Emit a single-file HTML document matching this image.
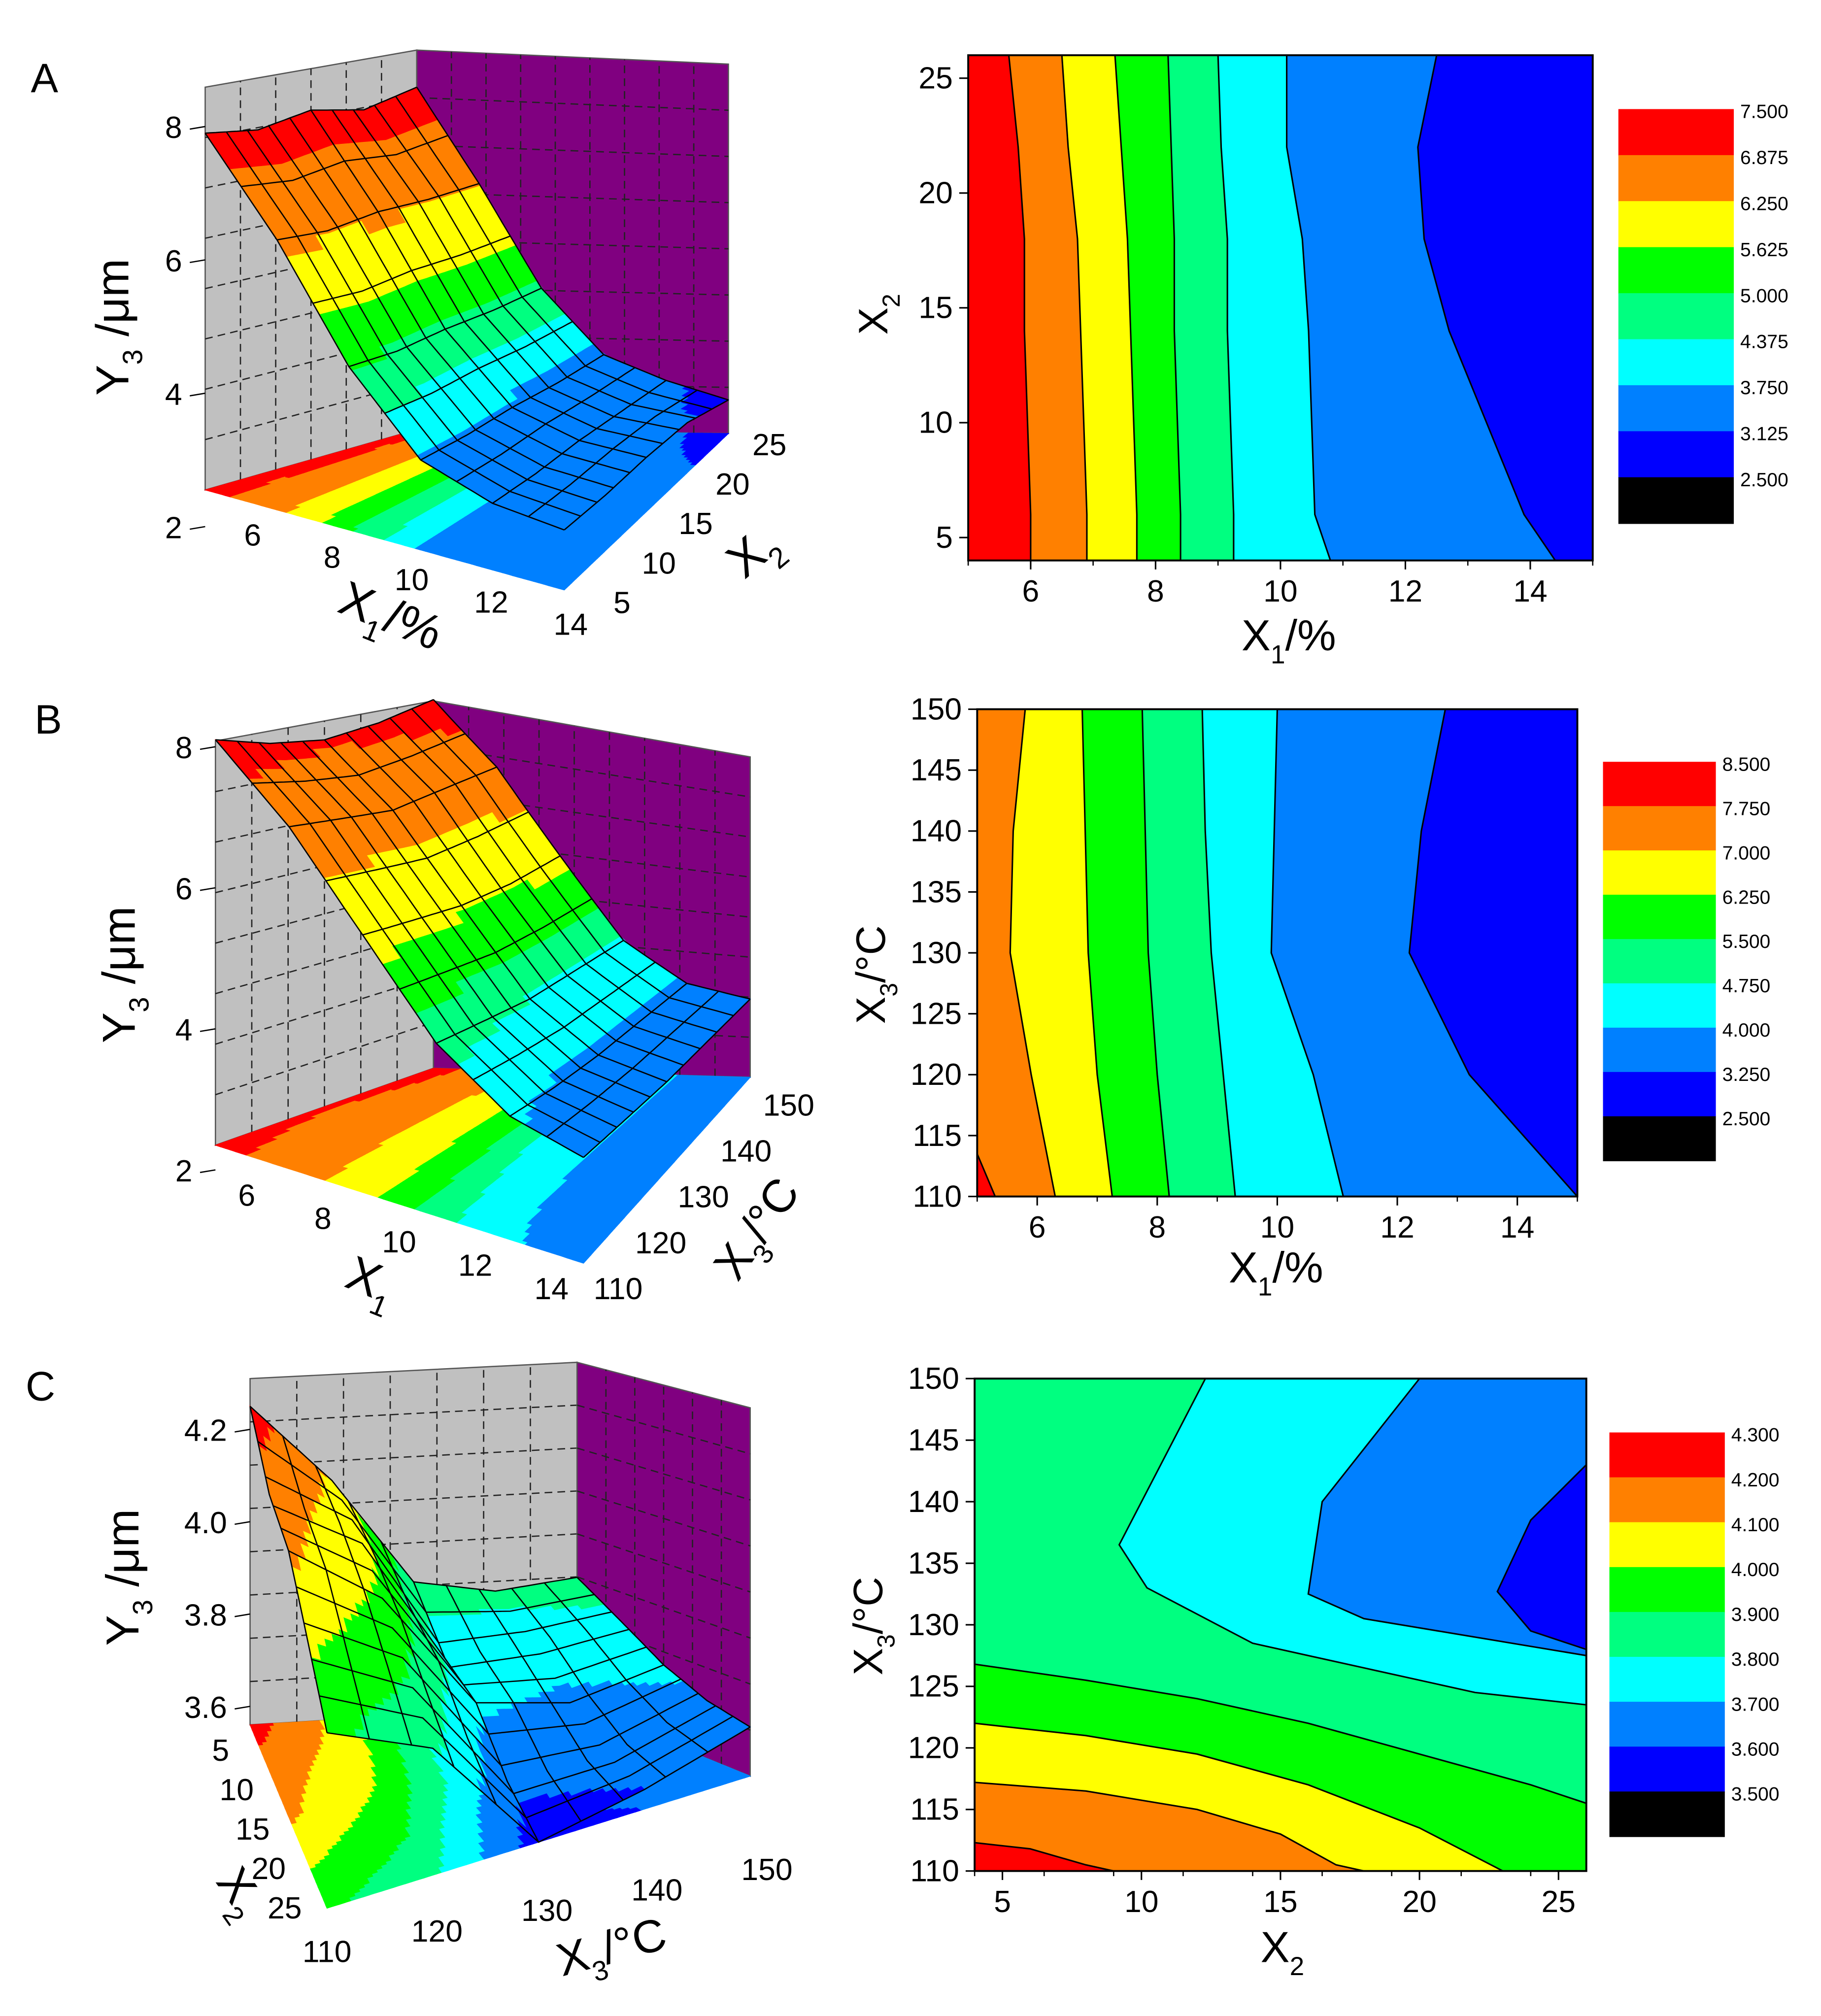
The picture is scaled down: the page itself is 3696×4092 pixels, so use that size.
<!DOCTYPE html>
<html><head><meta charset="utf-8"><title>Response surface and contour plots</title>
<style>html,body{margin:0;padding:0;background:#fff}svg{display:block}text{font-family:"Liberation Sans",Arial,sans-serif}</style>
</head><body>
<svg id="fig" width="3696" height="4092" viewBox="0 0 1420 1572" xmlns="http://www.w3.org/2000/svg">
<rect width="1420" height="1572" fill="#fff"/>
<text x="24" y="72" font-size="32">A</text>
<text x="27" y="572" font-size="32">B</text>
<text x="20" y="1092" font-size="32">C</text>
</svg>
<script>
const NS='http://www.w3.org/2000/svg';
const svg=document.getElementById('fig');
const palette=['#000000','#0000ff','#0080ff','#00ffff','#00ff80','#00ff00','#ffff00','#ff8000','#ff0000'];

/* ---------- contour plot data ---------- */
const aYPts=[26,22,18,14,10,6,4];
const aBound1=[5.65,5.8,5.9,5.9,5.95,6.0,6.0];
const aBound2=[6.5,6.6,6.75,6.8,6.85,6.9,6.9];
const aBound3=[7.35,7.45,7.55,7.6,7.65,7.7,7.7];
const aBound4=[8.2,8.25,8.3,8.3,8.35,8.4,8.4];
const aBound5=[9.0,9.05,9.15,9.15,9.2,9.25,9.25];
const aBound6=[10.1,10.1,10.35,10.45,10.5,10.55,10.8];
const aBound7=[12.5,12.2,12.3,12.7,13.3,13.9,14.4];
const aXTicks=[6,8,10,12,14];
const aYTicks=[5,10,15,20,25];
const aLevels=['7.500','6.875','6.250','5.625','5.000','4.375','3.750','3.125','2.500'];

const bYPts=[150,140,130,120,110];
const bBound1=[5.8,5.6,5.55,5.9,6.3];
const bBound2=[6.75,6.8,6.85,7.0,7.25];
const bBound3=[7.75,7.8,7.85,8.0,8.2];
const bBound4=[8.75,8.8,8.9,9.1,9.3];
const bBound5=[10.0,9.95,9.9,10.6,11.1];
const bBound6=[12.8,12.4,12.2,13.2,15.0];
const bXTicks=[6,8,10,12,14];
const bYTicks=[110,115,120,125,130,135,140,145,150];
const bLevels=['8.500','7.750','7.000','6.250','5.500','4.750','4.000','3.250','2.500'];

const cRedX=[4,6,8,9], cRedY=[112.3,111.8,110.5,110];
const cOrangeX=[4,8,12,15,17,18], cOrangeY=[117.2,116.5,115,113,110.5,110];
const cYellowX=[4,8,12,16,20,23], cYellowY=[122,121,119.5,117,113.5,110];
const cGreenX=[4,8,12,16,20,24,26], cGreenY=[126.8,125.5,124,122,119.5,117,115.5];
const cCyanX=[12.3,9.2,10.2,14,18,22,26], cCyanY=[150,136.5,133,128.5,126.5,124.5,123.5];
const cAzureX=[20,16.5,16,18,22,26], cAzureY=[150,140,132.5,130.5,129,127.5];
const cBlueX=[26,24,22.8,24,26], cBlueY=[143,138.5,132.7,129.5,128];
const cXTicks=[5,10,15,20,25];
const cYTicks=[110,115,120,125,130,135,140,145,150];
const cLevels=['4.300','4.200','4.100','4.000','3.900','3.800','3.700','3.600','3.500'];

/* ---------- 3D surface data ---------- */
const sAU=[4,6,8,10,12,14], sAV=[5,10,15,20,25];
const sAZ=[[7.9,6.6,5.0,3.9,3.55,3.45],[7.8,6.5,4.9,3.85,3.5,3.4],[7.95,6.55,4.9,3.85,3.5,3.4],[7.8,6.5,4.85,3.8,3.45,3.35],[8.0,6.5,4.85,3.8,3.4,3.1]];
const sALev=[3.0,3.3,3.95,4.45,4.95,5.6,6.4,7.4];
const sBU=[4,6,8,10,12,14], sBV=[110,120,130,140,150];
const sBZ=[[8.1,7.2,6.0,4.8,4.1,3.85],[7.9,7.1,5.9,4.7,4.0,3.8],[7.8,7.0,5.8,4.6,3.95,3.75],[7.9,7.1,5.8,4.6,3.95,3.75],[8.1,7.2,5.9,4.6,3.95,3.75]];
const sBLev=[3.0,3.5,4.05,4.6,5.1,5.7,6.6,7.7];
const sCU=[110,120,130,140,150], sCV=[5,10,15,20,25];
const sCZ=[[4.25,4.08,3.85,3.82,3.84],[4.15,4.05,3.75,3.76,3.78],[4.12,3.98,3.72,3.68,3.72],[4.02,3.9,3.62,3.62,3.68],[3.92,3.82,3.56,3.6,3.66]];
const sCLev=[3.5,3.6,3.7,3.8,3.9,4.0,4.1,4.2];
const aZTicks=[2,4,6,8], aZLabels=['2','4','6','8'], aUTicks=[6,8,10,12,14], aVTicks=[5,10,15,20,25];
const bZTicks=[2,4,6,8], bZLabels=['2','4','6','8'], bUTicks=[6,8,10,12,14], bVTicks=[110,120,130,140,150];
const cZTicks=[3.6,3.8,4.0,4.2], cZLabels=['3.6','3.8','4.0','4.2'], cUTicks=[110,120,130,140,150], cVTicks=[5,10,15,20,25];

function el(tag,attrs,parent){const e=document.createElementNS(NS,tag);for(const k in attrs)e.setAttribute(k,attrs[k]);(parent||svg).appendChild(e);return e;}
function txt(x,y,s,size,parent,anchor,rot){const t=el('text',{x:x,y:y,'font-size':size,'text-anchor':anchor||'middle'},parent);if(rot)t.setAttribute('transform','rotate('+rot+' '+x+' '+y+')');t.textContent=s;return t;}

/* ---------- contour plot ---------- */
function contourPlot(cfg){
  const g=el('g',{});
  
  
  const sx=v=>cfg.x0+(v-cfg.xmin)/(cfg.xmax-cfg.xmin)*(cfg.x1-cfg.x0);
  const sy=v=>cfg.y1-(v-cfg.ymin)/(cfg.ymax-cfg.ymin)*(cfg.y1-cfg.y0);
  const base=el('rect',{x:cfg.x0,y:cfg.y0,width:cfg.x1-cfg.x0,height:cfg.y1-cfg.y0,fill:cfg.base},g);
  
  
  cfg.regions.forEach(r=>{
    const pts=r.xs.map((x,i)=>[sx(x),sy(r.ys[i])]);
    let poly=pts.slice();
    r.close.forEach(c=>poly.push([sx(c[0]),sy(c[1])]));
    const p=el('polygon',{points:poly.map(p=>p.join(',')).join(' '),fill:r.fill},g);
    
    
    const l=el('polyline',{points:pts.map(p=>p.join(',')).join(' '),fill:'none',stroke:'#000','stroke-width':1.2},g);
    
    
  });
  el('rect',{x:cfg.x0,y:cfg.y0,width:cfg.x1-cfg.x0,height:cfg.y1-cfg.y0,fill:'none',stroke:'#000','stroke-width':1.5},g);
  cfg.xticks.forEach(t=>{const x=sx(t);el('line',{x1:x,y1:cfg.y1,x2:x,y2:cfg.y1+7,stroke:'#000','stroke-width':1.2},g);
    const tl=txt(x,cfg.y1+32,String(t),24,g);});
  for(let t=cfg.xmin;t<=cfg.xmax;t+=cfg.xminor){const x=sx(t);el('line',{x1:x,y1:cfg.y1,x2:x,y2:cfg.y1+4,stroke:'#000','stroke-width':1},g);}
  cfg.yticks.forEach(t=>{const y=sy(t);el('line',{x1:cfg.x0-7,y1:y,x2:cfg.x0,y2:y,stroke:'#000','stroke-width':1.2},g);
    const tl=txt(cfg.x0-12,y+8,String(t),24,g,'end');});
  const cb=el('g',{},g);
  
  
  const h=(cfg.cb[3]-cfg.cb[1])/9;
  cfg.levels.forEach((lab,i)=>{
    const r=el('rect',{x:cfg.cb[0],y:cfg.cb[1]+i*h,width:cfg.cb[2]-cfg.cb[0],height:h+0.5,fill:palette[8-i]},cb);
    
    
    const t=txt(cfg.cb[2]+5,cfg.cb[1]+i*h+7,lab,15,cb,'start');
    
    
  });
  return {g,sx,sy};
}
function vRegions(ys,bounds,fills,xmax){
  return bounds.map((b,i)=>({xs:b,ys:ys,fill:fills[i],close:[[xmax,ys[ys.length-1]],[xmax,ys[0]]]}));
}
contourPlot({name:'contour-plot-a',x0:755,x1:1242,y0:43,y1:437,xmin:5,xmax:15,ymin:4,ymax:26,base:palette[8],
  regions:vRegions(aYPts,[aBound1,aBound2,aBound3,aBound4,aBound5,aBound6,aBound7],[palette[7],palette[6],palette[5],palette[4],palette[3],palette[2],palette[1]],15),
  xticks:aXTicks,yticks:aYTicks,xminor:1,levels:aLevels,cb:[1262,85,1352,408]});
contourPlot({name:'contour-plot-b',x0:762,x1:1230,y0:553,y1:933,xmin:5,xmax:15,ymin:110,ymax:150,base:palette[7],
  regions:[{xs:[5,5,5.3],ys:[110,113.5,110],fill:palette[8],close:[]}].concat(vRegions(bYPts,[bBound1,bBound2,bBound3,bBound4,bBound5,bBound6],[palette[6],palette[5],palette[4],palette[3],palette[2],palette[1]],15)),
  xticks:bXTicks,yticks:bYTicks,xminor:1,levels:bLevels,cb:[1250,594,1338,905]});
contourPlot({name:'contour-plot-c',x0:760,x1:1237,y0:1075,y1:1459,xmin:4,xmax:26,ymin:110,ymax:150,base:palette[4],
  regions:[
    {xs:cGreenX,ys:cGreenY,fill:palette[5],close:[[26,110],[4,110]]},
    {xs:cYellowX,ys:cYellowY,fill:palette[6],close:[[4,110]]},
    {xs:cOrangeX,ys:cOrangeY,fill:palette[7],close:[[4,110]]},
    {xs:cRedX,ys:cRedY,fill:palette[8],close:[[4,110]]},
    {xs:cCyanX,ys:cCyanY,fill:palette[3],close:[[26,150]]},
    {xs:cAzureX,ys:cAzureY,fill:palette[2],close:[[26,150]]},
    {xs:cBlueX,ys:cBlueY,fill:palette[1],close:[]}],
  xticks:cXTicks,yticks:cYTicks,xminor:2.5,levels:cLevels,cb:[1255,1117,1345,1432]});

function title(x,y,main,sub,rest,size,rot,name){
  const t=el('text',{x:x,y:y,'font-size':size,'text-anchor':'middle'});
  
  
  if(rot)t.setAttribute('transform','rotate('+rot+' '+x+' '+y+')');
  const a=el('tspan',{},t);a.textContent=main;
  const b=el('tspan',{'font-size':size*0.6,dy:size*0.3},t);b.textContent=sub;
  const c=el('tspan',{dy:-size*0.3},t);c.textContent=rest;
}
title(1005,507,'X','1','/%',34,0,'x-axis-title-a');
title(692,245,'X','2','',32,-90,'y-axis-title-a');
title(995,1000,'X','1','/%',34,0,'x-axis-title-b');
title(690,760,'X','3','/°C',32,-90,'y-axis-title-b');
title(1000,1530,'X','2','',34,0,'x-axis-title-c');
title(688,1268,'X','3','/°C',32,-90,'y-axis-title-c');

/* ---------- 3D surface ---------- */
function interp(U,V,Z,u,v){
  let i=0;while(i<U.length-2&&u>U[i+1])i++;
  let j=0;while(j<V.length-2&&v>V[j+1])j++;
  const s=(u-U[i])/(U[i+1]-U[i]),t=(v-V[j])/(V[j+1]-V[j]);
  return Z[j][i]*(1-s)*(1-t)+Z[j][i+1]*s*(1-t)+Z[j+1][i]*(1-s)*t+Z[j+1][i+1]*s*t;
}
function colorFor(v,lev){let i=0;while(i<lev.length&&v>=lev[i])i++;return palette[i];}
function surface3d(cfg){
  const g=el('g',{});
  
  
  const U=cfg.U,V=cfg.V,Z=cfg.Z;
  const u0=U[0],u1=U[U.length-1],v0=V[0],v1=V[V.length-1];
  const c=cfg.corners,k=cfg.zsc;
  const P=(u,v,z)=>{const s=(u-u0)/(u1-u0),t=(v-v0)/(v1-v0);
    const w=[(1-s)*(1-t),s*(1-t),s*t,(1-s)*t];
    let x=0,y=0,zs=0;for(let q=0;q<4;q++){x+=c[q][0]*w[q];y+=c[q][1]*w[q];zs+=k[q]*w[q];}
    return [x,y-(z-cfg.zf)*zs];};
  const pstr=a=>a.map(p=>p[0].toFixed(1)+','+p[1].toFixed(1)).join(' ');
  cfg.walls.forEach(w=>{
    const A=w.a,B=w.b;
    const poly=[P(A[0],A[1],cfg.zf),P(B[0],B[1],cfg.zf),P(B[0],B[1],cfg.zt),P(A[0],A[1],cfg.zt)];
    const p=el('polygon',{points:pstr(poly),fill:w.fill,stroke:'#555','stroke-width':1},g);
    
    
    for(let m=1;m<w.n;m++){const f=m/w.n;const uu=A[0]+(B[0]-A[0])*f,vv=A[1]+(B[1]-A[1])*f;
      const q1=P(uu,vv,cfg.zf),q2=P(uu,vv,cfg.zt);
      el('line',{x1:q1[0],y1:q1[1],x2:q2[0],y2:q2[1],stroke:w.line,'stroke-width':1,'stroke-dasharray':'6,4'},g);}
    for(let m=1;m<8;m++){const z=cfg.zf+(cfg.zt-cfg.zf)*m/8;const q1=P(A[0],A[1],z),q2=P(B[0],B[1],z);
      el('line',{x1:q1[0],y1:q1[1],x2:q2[0],y2:q2[1],stroke:w.line,'stroke-width':1,'stroke-dasharray':'6,4'},g);}
  });
  const NF=70;
  const fg=el('g',{},g);
  
  
  for(let i=0;i<NF;i++)for(let j=0;j<NF;j++){
    const ua=u0+(u1-u0)*i/NF,ub=u0+(u1-u0)*(i+1)/NF,va=v0+(v1-v0)*j/NF,vb=v0+(v1-v0)*(j+1)/NF;
    const col=colorFor(interp(U,V,Z,(ua+ub)/2,(va+vb)/2),cfg.lev);
    el('polygon',{points:pstr([P(ua,va,cfg.zf),P(ub,va,cfg.zf),P(ub,vb,cfg.zf),P(ua,vb,cfg.zf)]),fill:col,stroke:col,'stroke-width':0.6},fg);
  }
  const N=44;
  const cells=[];
  for(let i=0;i<N;i++)for(let j=0;j<N;j++){
    const ua=u0+(u1-u0)*i/N,ub=u0+(u1-u0)*(i+1)/N,va=v0+(v1-v0)*j/N,vb=v0+(v1-v0)*(j+1)/N;
    const col=colorFor(interp(U,V,Z,(ua+ub)/2,(va+vb)/2),cfg.lev);
    const sp=[P(ua,va,interp(U,V,Z,ua,va)),P(ub,va,interp(U,V,Z,ub,va)),P(ub,vb,interp(U,V,Z,ub,vb)),P(ua,vb,interp(U,V,Z,ua,vb))];
    cells.push({d:P((ua+ub)/2,(va+vb)/2,cfg.zf)[1],sp,col});
  }
  cells.sort((a,b)=>a.d-b.d);
  const sg=el('g',{},g);
  
  
  cells.forEach(cl=>el('polygon',{points:pstr(cl.sp),fill:cl.col,stroke:cl.col,'stroke-width':0.6},sg));
  const M=10;
  for(let m=0;m<=M;m++){
    const uu=u0+(u1-u0)*m/M,vv=v0+(v1-v0)*m/M;const a=[],b=[];
    for(let q=0;q<=40;q++){const vm=v0+(v1-v0)*q/40,um=u0+(u1-u0)*q/40;
      a.push(P(uu,vm,interp(U,V,Z,uu,vm)));b.push(P(um,vv,interp(U,V,Z,um,vv)));}
    el('polyline',{points:pstr(a),fill:'none',stroke:'#000','stroke-width':1},sg);
    el('polyline',{points:pstr(b),fill:'none',stroke:'#000','stroke-width':1},sg);
  }
  cfg.zTicks.forEach((z,i)=>{const q=P(cfg.zAxis[0],cfg.zAxis[1],z);
    el('line',{x1:q[0]-12,y1:q[1]+2,x2:q[0],y2:q[1],stroke:'#000','stroke-width':1},g);
    const t=txt(q[0]-18,q[1]+9,cfg.zLabels[i],24,g,'end');});
  cfg.uTicks.forEach(u=>{const q=P(u,cfg.uAxisV,cfg.zf);const f=(u-u0)/(u1-u0);
    const ox=cfg.uOff0[0]+(cfg.uOff1[0]-cfg.uOff0[0])*f,oy=cfg.uOff0[1]+(cfg.uOff1[1]-cfg.uOff0[1])*f;
    const t=txt(q[0]+ox,q[1]+oy,String(u),24,g);});
  cfg.vTicks.forEach(v=>{const q=P(cfg.vAxisU,v,cfg.zf);const f=(v-v0)/(v1-v0);
    const ox=cfg.vOff0[0]+(cfg.vOff1[0]-cfg.vOff0[0])*f,oy=cfg.vOff0[1]+(cfg.vOff1[1]-cfg.vOff0[1])*f;
    const t=txt(q[0]+ox,q[1]+oy,String(v),24,g);});
}
surface3d({name:'surface-plot-a',U:sAU,V:sAV,Z:sAZ,lev:sALev,corners:[[160,382],[440,460],[568,338],[325,335]],zsc:[52,52,47.7,49],zf:2.55,zt:8.59,
  walls:[{a:[4,5],b:[4,25],fill:'#c0c0c0',line:'#222',n:6,name:'back-wall-left'},{a:[4,25],b:[14,25],fill:'#800080',line:'#222',n:9,name:'back-wall-right'}],
  zAxis:[4,5],zTicks:aZTicks,zLabels:aZLabels,uTicks:aUTicks,uAxisV:5,uOff0:[-25,26],uOff1:[5,35],vTicks:aVTicks,vAxisU:14,vOff0:[45,18],vOff1:[32,17]});
surface3d({name:'surface-plot-b',U:sBU,V:sBV,Z:sBZ,lev:sBLev,corners:[[168,893],[455,985],[585,840],[338,833]],zsc:[55,55,43.6,50],zf:2.35,zt:8.08,
  walls:[{a:[4,110],b:[4,150],fill:'#c0c0c0',line:'#222',n:6,name:'back-wall-left'},{a:[4,150],b:[14,150],fill:'#800080',line:'#222',n:9,name:'back-wall-right'}],
  zAxis:[4,110],zTicks:bZTicks,zLabels:bZLabels,uTicks:bUTicks,uAxisV:110,uOff0:[-35,29],uOff1:[-25,28],vTicks:bVTicks,vAxisU:14,vOff0:[27,28],vOff1:[30,30]});
surface3d({name:'surface-plot-c',U:sCU,V:sCV,Z:sCZ,lev:sCLev,corners:[[195,1345],[450,1330],[585,1385],[255,1488]],zsc:[360,357,383,380],zf:3.56,zt:4.31,
  walls:[{a:[110,5],b:[150,5],fill:'#c0c0c0',line:'#222',n:7,name:'back-wall-left'},{a:[150,5],b:[150,25],fill:'#800080',line:'#222',n:6,name:'back-wall-right'}],
  zAxis:[110,5],zTicks:cZTicks,zLabels:cZLabels,uTicks:cUTicks,uAxisV:25,uOff0:[0,42],uOff1:[13,81],vTicks:cVTicks,vAxisU:110,vOff0:[-23,28],vOff1:[-33,8]});

title(100,255,'Y','3',' /μm',36,-90,'z-axis-title-a');
title(300,492,'X','1','/%',38,22,'u-axis-title-a');
title(595,440,'X','2','',38,-40,'v-axis-title-a');
title(105,760,'Y','3',' /μm',36,-90,'z-axis-title-b');
title(285,1010,'X','1','',38,22,'u-axis-title-b');
title(600,965,'X','3','/°C',36,-55,'v-axis-title-b');
title(108,1230,'Y','3',' /μm',36,-90,'z-axis-title-c');
title(480,1530,'X','3','/°C',36,-15,'u-axis-title-c');
title(178,1482,'X','2','',36,55,'v-axis-title-c');
</script>
</body></html>
